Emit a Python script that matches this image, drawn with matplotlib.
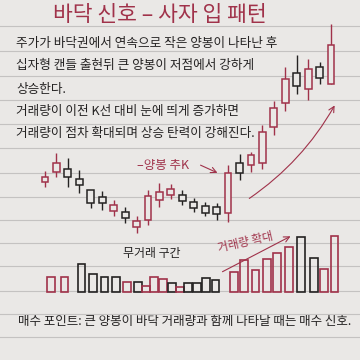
import matplotlib
matplotlib.use("Agg")
import matplotlib.pyplot as plt
import numpy as np

plt.rcParams['font.family'] = ['Noto Sans CJK KR', 'DejaVu Sans']

# --- data ----------------------------------------------------------------
# candles (price in arbitrary units)
opens  = [78, 88, 91, 81, 70, 63, 49, 48, 33, 40, 60, 65, 65, 58, 54, 53,
          47, 97, 95, 97, 133, 157, 187, 171, 193, 176]
closes = [83, 97, 83, 75, 57, 57, 55, 42, 39, 64, 68, 71, 59, 52, 47, 46,
          87, 87, 105, 128, 152, 181, 174, 191, 182, 215]
highs  = [89, 107, 102, 90, 70, 69, 60, 53, 44, 70, 77, 76, 70, 62, 58, 57,
          95, 106, 108, 135, 159, 193, 205, 201, 198, 236]
lows   = [73, 83, 73, 67, 52, 50, 44, 37, 27, 35, 53, 61, 55, 48, 44, 40,
          38, 80, 88, 91, 125, 149, 166, 160, 176, 176]

# volume bars (position in candle slots, height, up-day flag)
vol_pos = [0.5, 1.7, 3.2, 4.2, 5.2, 6.2, 7.2, 8.1, 8.8, 9.5, 10.3, 11.1, 11.8,
           12.5, 13.3, 14.1, 14.9, 16.5, 17.4, 18.4, 19.4, 20.3, 21.3, 22.4,
           23.5, 24.4, 25.3]
volume  = [15, 15, 28, 18, 15, 15, 10, 10, 6, 15, 13, 9, 5, 9, 9, 14, 12,
           20, 32, 22, 33, 39, 45, 55, 34, 23, 56]
vol_up  = [1, 1, 0, 0, 0, 0, 1, 0, 1, 1, 1, 0, 1, 0, 0, 0, 0, 1, 1, 1, 1, 1,
           1, 0, 0, 1, 1]

title = "바닥 신호 – 사자 입 패턴"
body_lines = ["주가가 바닥권에서 연속으로 작은 양봉이 나타난 후",
              "십자형 캔들 출현뒤 큰 양봉이 저점에서 강하게",
              "상승한다.",
              "거래량이 이전 K선 대비 눈에 띄게 증가하면",
              "거래량이 점차 확대되며 상승 탄력이 강해진다."]
footer = "매수 포인트: 큰 양봉이 바닥 거래량과 함께 나타날 때는 매수 신호."

# --- style -----------------------------------------------------------------
paper = "#eae8e6"
rule = "#c4c2c1"
red = "#a0324a"
ink = "#242222"

fig = plt.figure(figsize=(3.6, 3.6), dpi=100, facecolor=paper)

# background / text layer in pixel units
bg = fig.add_axes([0, 0, 1, 1])
bg.set_xlim(0, 360); bg.set_ylim(360, 0); bg.axis("off")
bg.set_facecolor(paper)
for y in [26, 51, 76, 100, 124, 148, 173, 197, 220, 243, 266, 291, 314, 337]:
    bg.axhline(y, color=rule, lw=0.8, zorder=0)

bg.text(160, 15, title, color=red, fontsize=15.5, ha="center", va="center")
for t, y in zip(body_lines, [43, 66, 89, 111, 134]):
    bg.text(16, y, t, color=ink, fontsize=9.1, ha="left", va="center")
bg.text(185, 322, footer, color=ink, fontsize=9.0, ha="center", va="center")

bg.text(137, 165, "–양봉 추K", color=red, fontsize=9, ha="left", va="center")
bg.annotate("", xy=(220, 174), xytext=(198, 164),
            arrowprops=dict(arrowstyle="->", color=red, lw=0.8))
bg.annotate("", xy=(336, 103), xytext=(247, 200),
            arrowprops=dict(arrowstyle="->", color=red, lw=0.8,
                            connectionstyle="arc3,rad=0.12"))
bg.text(152, 254, "무거래 구간", color=ink, fontsize=8.6, ha="center", va="center")
bg.text(245, 242, "거래량 확대", color=red, fontsize=8.4, ha="center", va="center",
        rotation=13)
bg.annotate("", xy=(293, 235), xytext=(220, 273),
            arrowprops=dict(arrowstyle="->", color=red, lw=0.8))

# candle layer
ax = fig.add_axes([0, 0, 1, 1])
ax.patch.set_alpha(0); ax.axis("off")
ax.set_xlim(-3.93, 27.53); ax.set_ylim(-100, 260)
x = np.arange(len(opens))
o = np.array(opens); c = np.array(closes)
cols = [red if cc >= oo else ink for oo, cc in zip(opens, closes)]
ax.vlines(x, lows, highs, colors=cols, lw=1.0, zorder=1)
ax.bar(x, np.abs(c - o), bottom=np.minimum(o, c), width=0.6,
       facecolor=paper, edgecolor=cols, linewidth=1.1, zorder=2)

# volume layer
axv = fig.add_axes([0, 0, 1, 1])
axv.patch.set_alpha(0); axv.axis("off")
axv.set_xlim(-3.93, 27.53); axv.set_ylim(-68, 292)
vcols = [red if u else ink for u in vol_up]
axv.bar(vol_pos, volume, width=0.68, facecolor="none", edgecolor=vcols,
        linewidth=1.2, zorder=2)

fig.savefig("out.png", dpi=100, facecolor=paper)
